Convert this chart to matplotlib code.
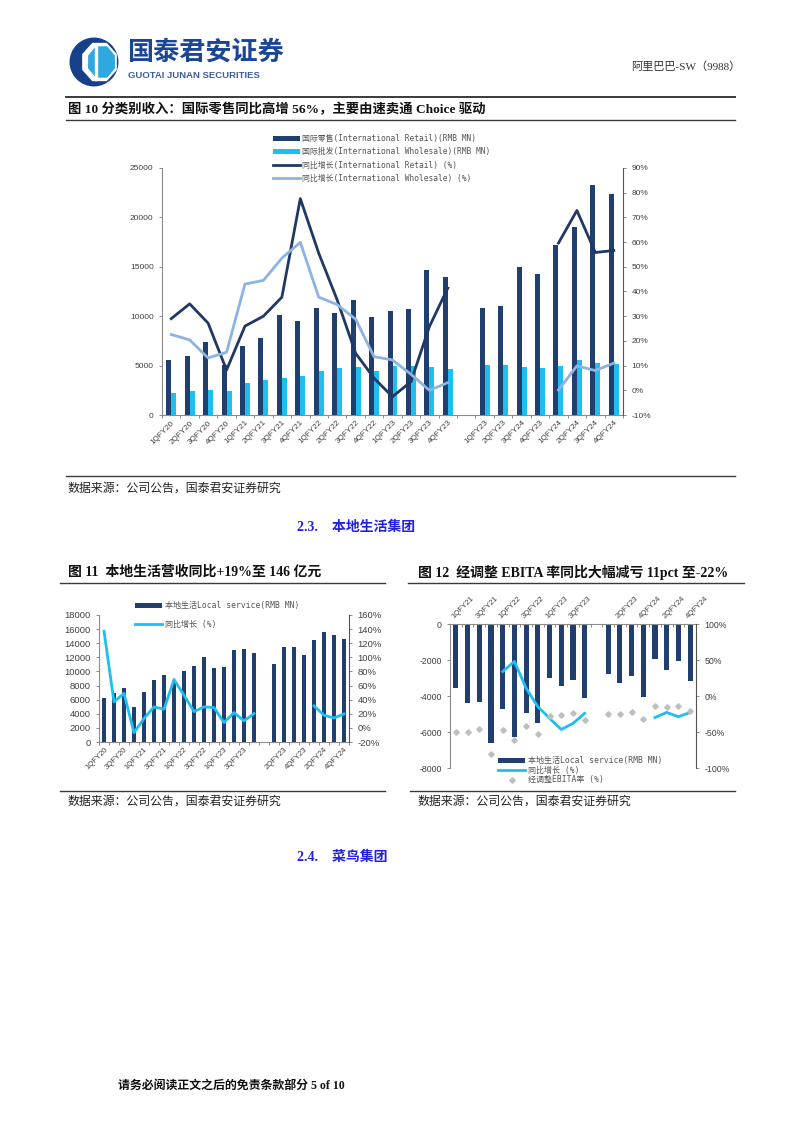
import numpy as np
import matplotlib
matplotlib.use('Agg')
import matplotlib.pyplot as plt
from matplotlib.lines import Line2D
from matplotlib.patches import Circle, Polygon
from matplotlib.ticker import FuncFormatter

plt.rcParams['font.family'] = ['Liberation Sans', 'Noto Sans CJK SC']
plt.rcParams['axes.unicode_minus'] = False

nan = np.nan

# ---- chart 10 data: international commerce
cats1 = ['1QFY20', '2QFY20', '3QFY20', '4QFY20', '1QFY21', '2QFY21', '3QFY21', '4QFY21',
         '1QFY22', '2QFY22', '3QFY22', '4QFY22', '1QFY23', '2QFY23', '3QFY23', '4QFY23', '',
         '1QFY23', '2QFY23', '3QFY24', '4QFY23', '1QFY24', '2QFY24', '3QFY24', '4QFY24']
retail = [5600, 6000, 7400, 5100, 7000, 7800, 10150, 9500, 10800, 10370, 11600, 9900,
          10540, 10740, 14660, 13950, nan, 10780, 11050, 14970, 14290, 17160, 18990, 23300, 22330]
wholesale = [2260, 2470, 2530, 2470, 3280, 3550, 3780, 3950, 4430, 4760, 4860, 4490,
             5000, 5000, 4860, 4630, nan, 5030, 5100, 4900, 4730, 5000, 5570, 5300, 5200]
retail_yoy = [29.0, 35.0, 27.2, 8.2, 26.0, 30.0, 37.7, 77.6, 55.5, 36.6, 15.0, 4.9,
              -2.6, 3.5, 25.8, 41.4, nan, nan, nan, nan, nan, 59.6, 72.8, 55.8, 56.6]
wholesale_yoy = [22.6, 20.4, 13.1, 15.4, 43.0, 44.5, 53.5, 59.9, 37.7, 34.7, 28.8, 13.6,
                 12.3, 6.5, 0.0, 3.1, nan, nan, nan, nan, nan, 0.1, 9.9, 8.0, 11.0]

# ---- chart 11 data: local services revenue
local_rev = [6200, 6900, 7600, 4900, 7100, 8800, 9500, 8500, 10100, 10800, 12100, 10470,
             10660, 13080, 13170, 12600, nan, 11100, 13400, 13400, 12300, 14450, 15600, 15170, 14640]
local_yoy = [137.0, 36.9, 48.8, -6.7, 13.2, 29.8, 26.4, 68.6, 46.4, 23.1, 29.8, 28.8,
             7.5, 21.7, 9.9, 20.3, nan, nan, nan, nan, nan, 31.2, 17.9, 14.1, 19.8]

# ---- chart 12 data: local services adjusted EBITA
cats3 = ['1QFY21', '2QFY21', '3QFY21', '4QFY21', '1QFY22', '2QFY22', '3QFY22', '4QFY22',
         '1QFY23', '2QFY23', '3QFY23', '4QFY23', '',
         '1QFY23', '2QFY23', '3QFY23', '4QFY24', '1QFY24', '2QFY24', '3QFY24', '4QFY24']
ebita = [-3530, -4410, -4320, -6600, -4740, -6270, -4970, -5490, -3010, -3440, -3110, -4130,
         nan, -2790, -3290, -2880, -4040, -1950, -2550, -2050, -3160]
ebita_yoy = [nan, nan, nan, nan, 34.0, 48.0, 10.7, -14.9, -31.0, -46.5, -38.0, -24.0,
             nan, nan, nan, nan, nan, -29.8, -22.8, -28.8, -22.8]
ebita_margin = [-50.2, -50.2, -45.6, -81.0, -47.4, -60.5, -41.4, -52.6, -28.4, -27.0, -23.7, -33.5,
                nan, -25.6, -25.1, -21.9, -32.6, -13.5, -15.8, -13.5, -20.9]

NAVY = '#203F6F'
CYAN = '#1EBFF0'
LIGHT = '#8DB3E2'
DLINE = '#1F3864'
GRAY = '#BFBFBF'
AX = '#8C8C8C'
TXT = '#404040'

W, H = 802, 1133
fig = plt.figure(figsize=(W / 100, H / 100), dpi=100)


def fx(x):
    return x / W


def fy(y):
    return 1 - y / H


def hline(y, x0, x1, lw=1.0, c='#3A3A3A'):
    fig.add_artist(Line2D([fx(x0), fx(x1)], [fy(y), fy(y)], color=c, lw=lw))


def style_axis(ax, sides, size):
    for s in ['left', 'right', 'top', 'bottom']:
        ax.spines[s].set_visible(s in sides)
        ax.spines[s].set_color(AX)
        ax.spines[s].set_linewidth(0.8)
    ax.tick_params(colors=TXT, labelsize=size, length=2.5, width=0.7, color=AX)


pct = FuncFormatter(lambda v, p: '%d%%' % v)
serif_cjk = ['Liberation Serif', 'Noto Sans CJK SC']
mono_cjk = ['DejaVu Sans Mono', 'Noto Sans CJK SC']

# ---- page header
lax = fig.add_axes([fx(66), fy(87), fx(56), 50 / H])
lax.set_xlim(-1, 1)
lax.set_ylim(-1, 1)
lax.set_aspect('equal')
lax.axis('off')
lax.add_patch(Circle((0, 0), 0.95, color='#173F8A'))
ang = np.linspace(0, 2 * np.pi, 9)[:-1] + np.pi / 8
lax.add_patch(Polygon(np.c_[0.22 + 0.72 * np.cos(ang), 0.8 * np.sin(ang)], color='white'))
lax.add_patch(Polygon(np.c_[0.30 + 0.55 * np.cos(ang), 0.65 * np.sin(ang)], color='#2FA8E0'))
lax.add_patch(Polygon([[0.02, -0.7], [0.12, -0.7], [0.12, 0.7], [0.02, 0.7]], color='white'))

fig.text(fx(127), fy(52), '国泰君安证券', fontsize=18.8, fontweight='bold', color='#1B4595',
         va='center', family=['Noto Sans CJK SC'])
fig.text(fx(128), fy(76), 'GUOTAI JUNAN SECURITIES', fontsize=6.8, fontweight='bold',
         color='#3B5EA0', va='center')
fig.text(fx(740), fy(67), '阿里巴巴-SW（9988）', fontsize=8, color='#333333', ha='right',
         va='center', family=serif_cjk)
hline(97, 66, 735, lw=1.4)

# ---- chart 10
fig.text(fx(68), fy(109), '图 10 分类别收入：国际零售同比高增 56%，主要由速卖通 Choice 驱动',
         fontsize=9.6, fontweight='bold', va='center', color='#111111', family=serif_cjk)
hline(120, 66, 735, lw=1.0)

ax1 = fig.add_axes([fx(162), fy(415), 461 / W, 247 / H])
x1 = np.arange(len(cats1))
b1 = ax1.bar(x1 - 0.135, retail, width=0.27, color=NAVY,
             label='国际零售(International Retail)(RMB MN)')
b2 = ax1.bar(x1 + 0.135, wholesale, width=0.27, color=CYAN,
             label='国际批发(International Wholesale)(RMB MN)')
ax1.set_xlim(-0.5, len(cats1) - 0.5)
ax1.set_ylim(0, 25000)
ax1.set_yticks(np.arange(0, 25001, 5000))
style_axis(ax1, ['left', 'bottom'], 6)
ax1.set_xticks(x1)
ax1.set_xticklabels(cats1, rotation=45, ha='right', rotation_mode='anchor', fontsize=5.9)
ax1.tick_params(axis='x', length=0, pad=3)
ax1.set_xticks(np.arange(-0.5, len(cats1)), minor=True)
ax1.tick_params(axis='x', which='minor', length=2.5, width=0.7, color=AX)

ax1b = ax1.twinx()
l1, = ax1b.plot(x1, retail_yoy, color=DLINE, lw=2.0,
                label='同比增长(International Retail) (%)')
l2, = ax1b.plot(x1, wholesale_yoy, color=LIGHT, lw=2.0,
                label='同比增长(International Wholesale) (%)')
ax1b.set_ylim(-10, 90)
ax1b.set_yticks(np.arange(-10, 91, 10))
ax1b.yaxis.set_major_formatter(pct)
style_axis(ax1b, ['right'], 6)
ax1b.spines['right'].set_color('#555555')

ax1.legend(handles=[b1, b2, l1, l2], loc='upper left', bbox_to_anchor=(fx(269), fy(130)),
           bbox_transform=fig.transFigure, frameon=False, prop={'family': mono_cjk, 'size': 5.7},
           handlelength=3.4, handleheight=0.55, handletextpad=0.3, labelspacing=0.55,
           borderpad=0, labelcolor='#555555')

hline(476, 66, 735, lw=1.0)
fig.text(fx(68), fy(489), '数据来源：公司公告，国泰君安证券研究', fontsize=8.6, va='center',
         color='#222222')
fig.text(fx(297), fy(527), '2.3.    本地生活集团', fontsize=10, fontweight='bold', va='center',
         color='#2222DD', family=serif_cjk)

# ---- chart 11
fig.text(fx(68), fy(572), '图 11  本地生活营收同比+19%至 146 亿元', fontsize=10, fontweight='bold',
         va='center', color='#111111', family=serif_cjk)
hline(583, 60, 385, lw=1.0)

ax2 = fig.add_axes([fx(99), fy(742), 250 / W, 127 / H])
x2 = np.arange(len(cats1))
b3 = ax2.bar(x2, local_rev, width=0.45, color=NAVY, label='本地生活Local service(RMB MN)')
ax2.set_xlim(-0.5, len(cats1) - 0.5)
ax2.set_ylim(0, 18000)
ax2.set_yticks(np.arange(0, 18001, 2000))
style_axis(ax2, ['left', 'bottom'], 6.8)
ax2.set_xticks(x2[::2])
ax2.set_xticklabels(cats1[::2], rotation=45, ha='right', rotation_mode='anchor', fontsize=5.5)
ax2.tick_params(axis='x', length=0, pad=3)
ax2.set_xticks(np.arange(-0.5, len(cats1)), minor=True)
ax2.tick_params(axis='x', which='minor', length=2.5, width=0.7, color=AX)

ax2b = ax2.twinx()
l3, = ax2b.plot(x2, local_yoy, color=CYAN, lw=2.0, label='同比增长 (%)')
ax2b.set_ylim(-20, 160)
ax2b.set_yticks(np.arange(-20, 161, 20))
ax2b.yaxis.set_major_formatter(pct)
style_axis(ax2b, ['right'], 6.8)
ax2b.spines['right'].set_color('#555555')

ax2.legend(handles=[b3, l3], loc='upper left', bbox_to_anchor=(fx(131), fy(597)),
           bbox_transform=fig.transFigure, frameon=False, prop={'family': mono_cjk, 'size': 5.8},
           handlelength=3.4, handleheight=0.55, handletextpad=0.3, labelspacing=1.25,
           borderpad=0, labelcolor='#555555')

hline(791, 60, 385, lw=1.0)
fig.text(fx(68), fy(802), '数据来源：公司公告，国泰君安证券研究', fontsize=8.6, va='center',
         color='#222222')

# ---- chart 12
fig.text(fx(418), fy(572), '图 12  经调整 EBITA 率同比大幅减亏 11pct 至-22%', fontsize=10,
         fontweight='bold', va='center', color='#111111', family=serif_cjk)
hline(583, 408, 744, lw=1.0)

ax3 = fig.add_axes([fx(450), fy(768), 246 / W, 144 / H])
x3 = np.arange(len(cats3))
b4 = ax3.bar(x3, ebita, width=0.45, color=NAVY, label='本地生活Local service(RMB MN)')
ax3.set_xlim(-0.5, len(cats3) - 0.5)
ax3.set_ylim(-8000, 0)
ax3.set_yticks(np.arange(-8000, 1, 2000))
style_axis(ax3, ['left', 'top'], 6.3)
ax3.xaxis.tick_top()
ax3.set_xticks(x3[::2])
ax3.set_xticklabels(cats3[::2], rotation=45, ha='left', rotation_mode='anchor', fontsize=5.5)
ax3.tick_params(axis='x', length=0, pad=3)
ax3.set_xticks(np.arange(-0.5, len(cats3)), minor=True)
ax3.tick_params(axis='x', which='minor', length=2.5, width=0.7, color=AX, direction='in')

ax3b = ax3.twinx()
l4, = ax3b.plot(x3, ebita_yoy, color=CYAN, lw=2.0, label='同比增长 (%)')
m4, = ax3b.plot(x3, ebita_margin, ls='none', marker='D', ms=2.8, color=GRAY, mec=GRAY,
                label='经调整EBITA率 (%)')
ax3b.set_ylim(-100, 100)
ax3b.set_yticks([-100, -50, 0, 50, 100])
ax3b.yaxis.set_major_formatter(pct)
style_axis(ax3b, ['right'], 6.3)
ax3b.spines['right'].set_color('#555555')

ax3.legend(handles=[b4, l4, m4], loc='upper left', bbox_to_anchor=(fx(494), fy(752)),
           bbox_transform=fig.transFigure, frameon=False, prop={'family': mono_cjk, 'size': 5.8},
           handlelength=3.4, handleheight=0.55, handletextpad=0.3, labelspacing=0.08,
           borderpad=0, labelcolor='#555555')

hline(791, 410, 735, lw=1.0)
fig.text(fx(418), fy(802), '数据来源：公司公告，国泰君安证券研究', fontsize=8.6, va='center',
         color='#222222')

fig.text(fx(297), fy(857), '2.4.    菜鸟集团', fontsize=10, fontweight='bold', va='center',
         color='#2222DD', family=serif_cjk)

fig.text(fx(118), fy(1086), '请务必阅读正文之后的免责条款部分 5 of 10', fontsize=8.6, fontweight='bold',
         va='center', color='#111111', family=serif_cjk)

fig.savefig('out.png', dpi=100)
